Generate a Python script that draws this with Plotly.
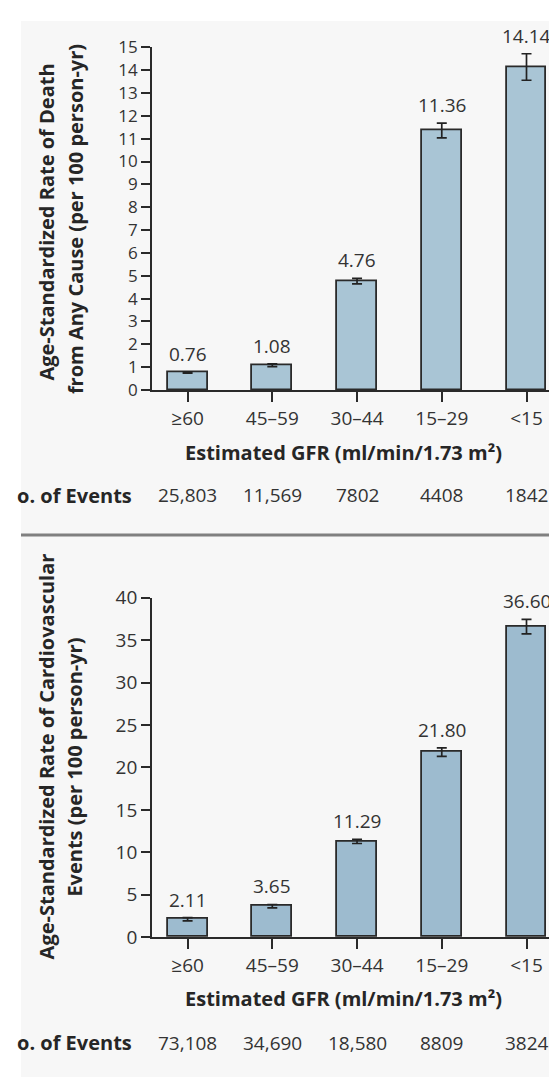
import plotly.graph_objects as go

# ---------------- data ----------------
categories = ["≥60", "45–59", "30–44", "15–29", "<15"]

death_rates = [0.76, 1.08, 4.76, 11.36, 14.14]
death_err = [0.03, 0.06, 0.12, 0.32, 0.58]
death_labels = ["0.76", "1.08", "4.76", "11.36", "14.14"]
death_events = ["25,803", "11,569", "7802", "4408", "1842"]

cv_rates = [2.11, 3.65, 11.29, 21.80, 36.60]
cv_err = [0.20, 0.20, 0.25, 0.50, 0.85]
cv_labels = ["2.11", "3.65", "11.29", "21.80", "36.60"]
cv_events = ["73,108", "34,690", "18,580", "8809", "3824"]

top_ticks = list(range(0, 16))
bottom_ticks = list(range(0, 41, 5))

# ---------------- styling ----------------
# The page body has an 8px default margin; the figure is sized so that it
# ends exactly at the right/bottom edge of the 557x1090 window.
OFF = 8
W, H = 557 - OFF, 1090 - OFF
FONT = "Open Sans"
TXT = "#262626"
NUM = "#333333"
EDGE = "#2a2a2a"
NUMSIZE = 19
TITLESIZE = 20


def px(x):
    return (x - OFF) / W


def py(y):
    return 1 - (y - OFF) / H


fig = go.Figure()

fig.add_trace(go.Bar(
    x=categories, y=death_rates, xaxis="x", yaxis="y", width=0.472,
    marker=dict(color="#a9c5d5", line=dict(color=EDGE, width=1.8)),
    error_y=dict(type="data", array=death_err, color="#222222", thickness=1.7, width=5),
    showlegend=False, hoverinfo="skip",
))
fig.add_trace(go.Bar(
    x=categories, y=cv_rates, xaxis="x2", yaxis="y2", width=0.472,
    marker=dict(color="#9dbbcf", line=dict(color=EDGE, width=1.8)),
    error_y=dict(type="data", array=cv_err, color="#222222", thickness=1.7, width=5),
    showlegend=False, hoverinfo="skip",
))

xrange = [-0.42, 4.36]
xcommon = dict(
    type="category", categoryorder="array", categoryarray=categories,
    range=xrange, domain=[px(152), 1], showline=True, linecolor=EDGE, linewidth=1.8,
    ticks="outside", ticklen=10, tickwidth=1.7, tickcolor=EDGE,
    tickfont=dict(family=FONT, size=NUMSIZE, color=NUM), showgrid=False, zeroline=False,
    fixedrange=True,
)
ycommon = dict(
    showline=True, linecolor=EDGE, linewidth=1.8, ticks="outside", ticklen=9,
    tickwidth=1.7, tickcolor=EDGE,
    showgrid=False, zeroline=False, fixedrange=True,
)

fig.update_layout(
    width=W, height=H, margin=dict(l=0, r=0, t=0, b=0),
    paper_bgcolor="white", plot_bgcolor="rgba(0,0,0,0)",
    bargap=0,
    xaxis=dict(**xcommon, anchor="y"),
    yaxis=dict(**ycommon, anchor="x", domain=[py(386), py(35)], range=[0, 15],
               tickmode="array", tickvals=top_ticks,
               tickfont=dict(family=FONT, size=17, color=NUM)),
    xaxis2=dict(**xcommon, anchor="y2"),
    yaxis2=dict(**ycommon, anchor="x2", domain=[py(946.7), py(599)], range=[0, 40],
                tickmode="array", tickvals=bottom_ticks,
                tickfont=dict(family=FONT, size=NUMSIZE, color=NUM)),
)

shapes = [
    dict(type="rect", xref="paper", yref="paper", x0=px(21), x1=1, y0=0, y1=1,
         fillcolor="#f7f7f7", line=dict(width=0), layer="below"),
    dict(type="line", xref="paper", yref="paper", x0=px(21), x1=1, y0=py(534.7), y1=py(534.7),
         line=dict(color="#808080", width=3)),
]
fig.update_layout(shapes=shapes)

ann = []
# value labels
for xr, yr, vals, errs, labs in [("x", "y", death_rates, death_err, death_labels),
                                  ("x2", "y2", cv_rates, cv_err, cv_labels)]:
    for c, v, e, l in zip(categories, vals, errs, labs):
        ann.append(dict(x=c, y=v + e, xref=xr, yref=yr, text=l, showarrow=False,
                        yanchor="middle", yshift=18,
                        font=dict(family=FONT, size=NUMSIZE, color=NUM)))

# axis titles, event counts
panels = [
    ("x", death_events, 450, 494,
     ("Age-Standardized Rate of Death", 214),
     ("from Any Cause (per 100 person-yr)", 211)),
    ("x2", cv_events, 1010, 1055,
     ("Age-Standardized Rate of Cardiovascular", 762),
     ("Events (per 100 person-yr)", 773)),
]
for xr, events, ytitle, yev, l1, l2 in panels:
    ann.append(dict(x=px(343), y=py(ytitle), xref="paper", yref="paper",
                    text="<b>Estimated GFR (ml/min/1.73 m²)</b>", showarrow=False,
                    xanchor="center", yanchor="middle",
                    font=dict(family=FONT, size=TITLESIZE, color=TXT)))
    ann.append(dict(x=px(134), y=py(yev), xref="paper", yref="paper",
                    text="<b>o. of Events</b>", showarrow=False,
                    xanchor="right", yanchor="middle",
                    font=dict(family=FONT, size=TITLESIZE, color=TXT)))
    for c, ev in zip(categories, events):
        ann.append(dict(x=c, y=py(yev), xref=xr, yref="paper", text=ev,
                        showarrow=False, xanchor="center", yanchor="middle",
                        font=dict(family=FONT, size=NUMSIZE, color=NUM)))
    ann.append(dict(x=px(46.5), y=py(l1[1]), xref="paper", yref="paper",
                    text="<b>" + l1[0] + "</b>", textangle=-90, showarrow=False,
                    xanchor="center", yanchor="middle",
                    font=dict(family=FONT, size=TITLESIZE, color=TXT)))
    ann.append(dict(x=px(75), y=py(l2[1]), xref="paper", yref="paper",
                    text="<b>" + l2[0] + "</b>", textangle=-90, showarrow=False,
                    xanchor="center", yanchor="middle",
                    font=dict(family=FONT, size=TITLESIZE, color=TXT)))

fig.update_layout(annotations=ann)

fig.write_html("out.html")
